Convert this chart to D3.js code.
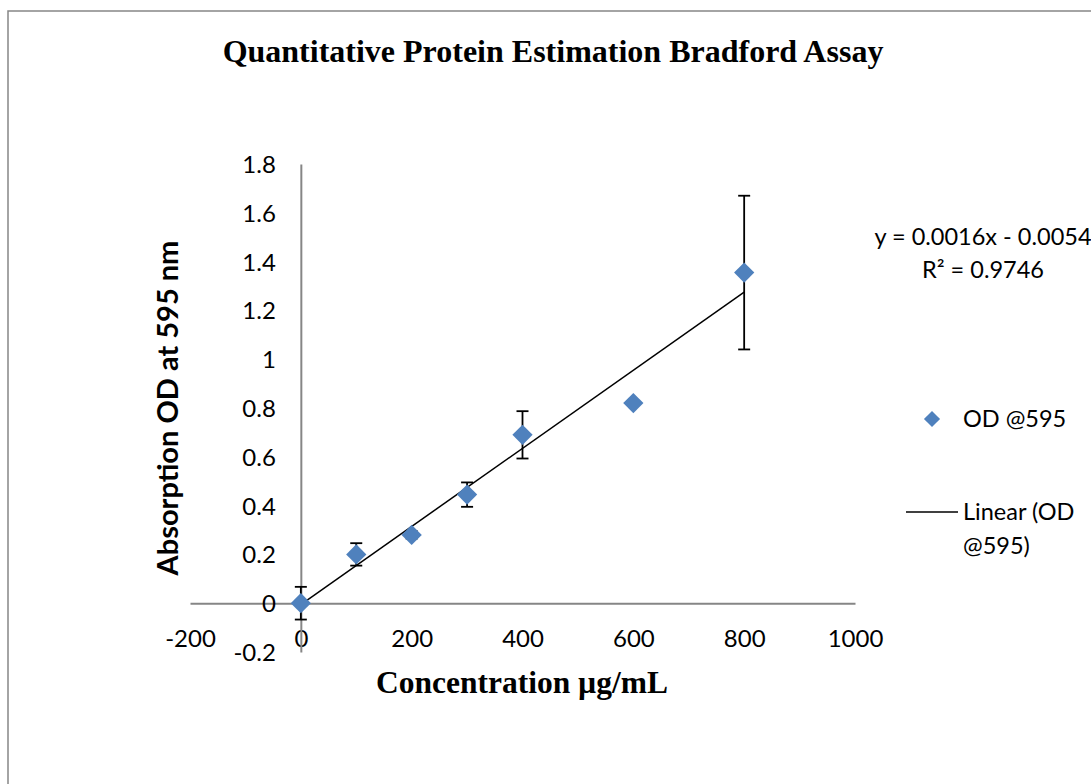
<!DOCTYPE html>
<html>
<head>
<meta charset="utf-8">
<script src="https://cdn.jsdelivr.net/npm/d3@7"></script>
<style>
  html, body { margin: 0; padding: 0; background: #fff; }
  svg { display: block; }
</style>
</head>
<body>
<svg id="chart" width="1091" height="784"></svg>
<script>
// ---- Data ----
const concentrations = [0, 100, 200, 300, 400, 600, 800];
const odValues = [0, 0.2, 0.28, 0.445, 0.69, 0.82, 1.355];
const odErrors = [0.067, 0.046, 0.015, 0.05, 0.097, 0, 0.315];
const xTicks = [-200, 0, 200, 400, 600, 800, 1000];
const yTicks = [-0.2, 0, 0.2, 0.4, 0.6, 0.8, 1, 1.2, 1.4, 1.6, 1.8];
const trendSlope = 0.0016;
const trendIntercept = -0.0054;
const trendRange = [0, 800];
const titleText = "Quantitative Protein Estimation Bradford Assay";
const xLabelText = "Concentration µg/mL";
const yLabelText = "Absorption OD at 595 nm";
const equationLines = ["y = 0.0016x - 0.0054", "R² = 0.9746"];
const legendSeries = "OD @595";
const legendTrend = ["Linear (OD", "@595)"];

const svg = d3.select("#chart");
const serif = "'Liberation Serif', 'Times New Roman', serif";
const sans = "Lato, Carlito, Calibri, sans-serif";
const axisGrey = "#868686";
const markerColor = "#4F81BD";
const fmt = d => String(+(+d).toFixed(1)); // plain hyphen minus

// frame
svg.append("rect").attr("x", 8).attr("y", 11).attr("width", 1200).attr("height", 900)
  .attr("fill", "none").attr("stroke", axisGrey).attr("stroke-width", 1.5);

const x = d3.scaleLinear().domain([-200, 1000]).range([190, 855]);
const y = d3.scaleLinear().domain([-0.2, 1.8]).range([652, 164]);

// title
svg.append("text").attr("x", 553).attr("y", 62).attr("text-anchor", "middle")
  .attr("font-family", serif).attr("font-weight", "bold").attr("font-size", 32)
  .text(titleText);

// axes (no tick marks)
const xAxis = d3.axisBottom(x).tickValues(xTicks).tickSize(0).tickFormat(fmt);
const gx = svg.append("g").attr("transform", `translate(0,${y(0)})`).call(xAxis);
gx.select(".domain").attr("stroke", axisGrey).attr("stroke-width", 2);
gx.selectAll("text").attr("font-family", sans).attr("font-size", 24).attr("fill", "#000")
  .attr("dy", 0).attr("y", 44);

const yAxis = d3.axisLeft(y).tickValues(yTicks).tickSize(0).tickFormat(fmt);
const gy = svg.append("g").attr("transform", `translate(${x(0)},0)`).call(yAxis);
gy.select(".domain").attr("stroke", axisGrey).attr("stroke-width", 2);
gy.selectAll("text").attr("font-family", sans).attr("font-size", 24).attr("fill", "#000")
  .attr("x", -25).attr("dy", "0.35em");

// axis titles
svg.append("text").attr("x", 522).attr("y", 693).attr("text-anchor", "middle")
  .attr("font-family", serif).attr("font-weight", "bold").attr("font-size", 31.5)
  .text(xLabelText);
svg.append("text").attr("transform", "translate(178,408) rotate(-90)").attr("text-anchor", "middle")
  .attr("font-family", sans).attr("font-weight", "bold").attr("font-size", 29)
  .text(yLabelText);

// trendline
const trendData = trendRange.map(c => ({c, v: trendSlope * c + trendIntercept}));
svg.append("path").datum(trendData)
  .attr("d", d3.line().x(d => x(d.c)).y(d => y(d.v)))
  .attr("stroke", "#000").attr("stroke-width", 1.5).attr("fill", "none");

// error bars
const pts = concentrations.map((c, i) => ({c, v: odValues[i], e: odErrors[i]}));
const eb = svg.append("g").selectAll("g").data(pts.filter(d => d.e > 0)).join("g")
  .attr("stroke", "#000").attr("stroke-width", 1.8);
eb.append("line").attr("x1", d => x(d.c)).attr("x2", d => x(d.c))
  .attr("y1", d => y(d.v + d.e)).attr("y2", d => y(d.v - d.e));
eb.append("line").attr("x1", d => x(d.c) - 6).attr("x2", d => x(d.c) + 6)
  .attr("y1", d => y(d.v + d.e)).attr("y2", d => y(d.v + d.e));
eb.append("line").attr("x1", d => x(d.c) - 6).attr("x2", d => x(d.c) + 6)
  .attr("y1", d => y(d.v - d.e)).attr("y2", d => y(d.v - d.e));

// markers
const diamond = d3.symbol().type(d3.symbolSquare).size(205);
svg.append("g").selectAll("path").data(pts).join("path")
  .attr("d", diamond)
  .attr("transform", d => `translate(${x(d.c)},${y(d.v)}) rotate(45)`)
  .attr("fill", markerColor);

// equation
svg.append("g").selectAll("text").data(equationLines).join("text")
  .attr("x", 983).attr("y", (d, i) => 245 + i * 33).attr("text-anchor", "middle")
  .attr("font-family", sans).attr("font-size", 23.5).text(d => d);

// legend
svg.append("path").attr("d", d3.symbol().type(d3.symbolSquare).size(130))
  .attr("transform", "translate(932,419) rotate(45)").attr("fill", markerColor);
svg.append("text").attr("x", 963).attr("y", 427).attr("font-family", sans).attr("font-size", 23.5)
  .text(legendSeries);
svg.append("line").attr("x1", 906).attr("x2", 958).attr("y1", 512).attr("y2", 512)
  .attr("stroke", "#000").attr("stroke-width", 1.5);
svg.append("g").selectAll("text").data(legendTrend).join("text")
  .attr("x", 963).attr("y", (d, i) => 520 + i * 34)
  .attr("font-family", sans).attr("font-size", 23.5).text(d => d);
</script>
</body>
</html>
